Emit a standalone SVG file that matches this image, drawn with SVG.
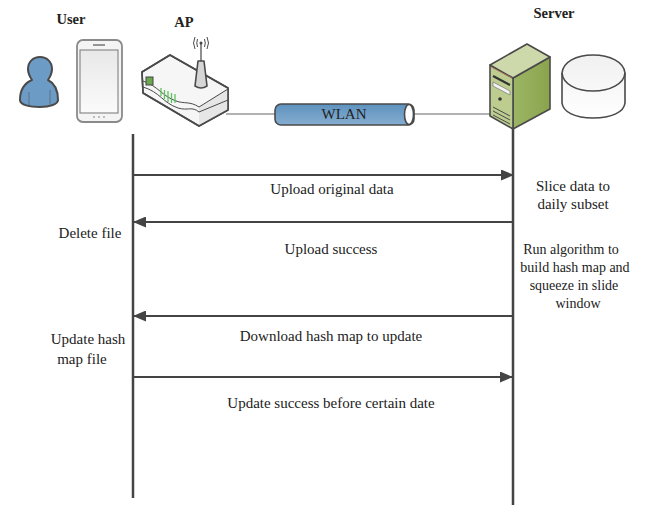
<svg xmlns="http://www.w3.org/2000/svg" width="660" height="506" viewBox="0 0 660 506">
<style>
text{font-family:"Liberation Serif","Times New Roman",serif;font-size:15px;fill:#222;text-anchor:middle}
.h{font-weight:bold;font-size:14.500px}
.s{font-size:14px}
.ic{stroke:#4a4a4a;stroke-width:1.600;stroke-linejoin:round}
.life{stroke:#444;stroke-width:2.500;fill:none}
.msg{stroke:#444;stroke-width:2;fill:none;marker-end:url(#a)}
.thin{stroke:#999;stroke-width:1.500;fill:none}
.d{stroke:#4a4a4a;stroke-width:1;fill:none}
</style>
<defs>
<marker id="a" markerUnits="userSpaceOnUse" markerWidth="13" markerHeight="11" refX="12" refY="5.500" orient="auto"><path d="M0 0L13 5.500L0 11z" fill="#444"/></marker>
<linearGradient id="cyl" x1="0" y1="0" x2="0" y2="1"><stop offset="0" stop-color="#5d92bf"/><stop offset="1" stop-color="#86add0"/></linearGradient>
<linearGradient id="db" x1="0" y1="0" x2="0" y2="1"><stop offset="0" stop-color="#f0f0f0"/><stop offset="1" stop-color="#fff"/></linearGradient>
<linearGradient id="side" x1="0" y1="0" x2="1" y2="0"><stop offset="0" stop-color="#9cb565"/><stop offset="1" stop-color="#8aa44d"/></linearGradient>
<linearGradient id="ph" x1="0" y1="0" x2="0" y2="1"><stop offset="0" stop-color="#e8e8e8"/><stop offset="1" stop-color="#fbfbfb"/></linearGradient>
</defs>
<g id="connectors">
<path class="thin" d="M226 114H276"/>
<path class="thin" d="M414 114H490"/>
<path class="life" d="M133 134V498"/>
<path class="life" d="M513 124V505"/>
<path class="msg" d="M133 175H513"/>
<path class="msg" d="M513 222H134"/>
<path class="msg" d="M513 316H134"/>
<path class="msg" d="M133 377H512"/>
</g>
<g id="user">
<path fill="#6c9bc6" stroke="#4a4a4a" stroke-width="2" stroke-linejoin="round" d="M20 100C20 90 25 83 32 80C30 77 28 73 28 69C28 62 33 57 40 57C47 57 52 62 52 69C52 73 50 77 48 80C54 83 58 90 58 100C58 104 50 107 40 107C30 107 20 105 20 100Z"/>
<path class="d" stroke-opacity="0.500" d="M29 92V105M50 90V104"/>
<text class="h" x="71" y="24">User</text>
</g>
<g id="phone">
<rect x="77" y="40" width="45" height="82" rx="6" fill="#f4f4f4" stroke="#8a8a8a" stroke-width="1.800"/>
<rect x="80" y="50" width="38" height="63" fill="url(#ph)" stroke="#8a8a8a" stroke-width="1.200"/>
<path d="M93 45H105" stroke="#555" stroke-width="1.200"/>
<path d="M93 117h2M98 117h2M103 117h2" stroke="#aaa" stroke-width="1.500"/>
</g>
<g id="ap">
<path class="ic" fill="#f6f6f6" d="M142 72L170 55L228 88V110L199 126L143 93Z"/>
<path fill="#e6e6e6" d="M199 107L228 88V110L199 126Z"/>
<path class="ic" fill="none" d="M142 72L170 55L228 88V110L199 126L143 93Z"/>
<path class="d" d="M228 89L199 107C190 101 184 104 176 101C162 96 158 86 143 81M143 87C160 92 163 103 178 108C188 111 192 106 199 112L228 100"/>
<rect x="146" y="77" width="7" height="8" fill="#6aa84f" stroke="#444"/>
<path d="M161 88V96M164.500 90V99M168 91V102M171.500 93V103M175 94V103" stroke="#5fc05f" stroke-width="1.300"/>
<path class="ic" fill="#d6d6d6" d="M195 86L198 61H204L207 86Q201 90 195 86Z"/>
<path d="M201 61V44" stroke="#444" stroke-width="1.200"/>
<circle cx="201" cy="43" r="1.500" fill="#444"/>
<path class="d" d="M197.500 39Q196 43 197.500 47M204.500 39Q206 43 204.500 47M195 37Q192 43 195 49M207 37Q210 43 207 49"/>
<text class="h" x="184" y="27">AP</text>
</g>
<g id="wlan">
<rect class="ic" x="275" y="104" width="139" height="21" rx="6" fill="url(#cyl)"/>
<ellipse class="ic" cx="409" cy="114.500" rx="4.500" ry="10" fill="#fff"/>
<text x="344" y="119">WLAN</text>
</g>
<g id="server">
<path class="ic" stroke-width="2" fill="url(#side)" d="M513 78L550 57V109L513 129Z"/>
<path class="ic" stroke-width="2" fill="#bccd8f" d="M490 65V116L513 129V78Z"/>
<path class="ic" stroke-width="2" fill="#cdd9aa" d="M490 65L527 44L550 57L513 78Z"/>
<path d="M491 67L512 78" stroke="#b9765a" stroke-width="0.800"/>
<path d="M493 76L510 85" stroke="#333" stroke-width="2"/>
<path d="M493 82L510 91V95L493 86Z" fill="#f2f2f2" stroke="#666" stroke-width="0.600"/>
<circle cx="500" cy="99" r="1.800" fill="#333"/>
<path class="d" d="M493 107L510 116M493 111L510 120M493 115L510 124"/>
<text class="h" x="554" y="18">Server</text>
</g>
<g id="database">
<path class="ic" stroke-width="1.500" fill="url(#db)" d="M562 73V103C563 112 575 118 593 118C612 118 624 112 625 103V73C624 62 610 55 593 55C576 55 563 62 562 73Z"/>
<path class="ic" stroke-width="1.500" fill="none" d="M562 73C563 84 576 91 593 91C610 91 624 84 625 73"/>
</g>
<g id="labels">
<text x="332" y="194">Upload original data</text>
<text x="331" y="254">Upload success</text>
<text x="331" y="341">Download hash map to update</text>
<text x="331" y="408">Update success before certain date</text>
<text x="90" y="238">Delete file</text>
<text x="88" y="344">Update hash</text>
<text x="82" y="364">map file</text>
<text x="573" y="191">Slice data to</text>
<text x="573" y="209">daily subset</text>
<text class="s" x="571" y="254">Run algorithm to</text>
<text class="s" x="575" y="272">build hash map and</text>
<text class="s" x="574" y="290">squeeze in slide</text>
<text class="s" x="578" y="308">window</text>
</g>
</svg>
